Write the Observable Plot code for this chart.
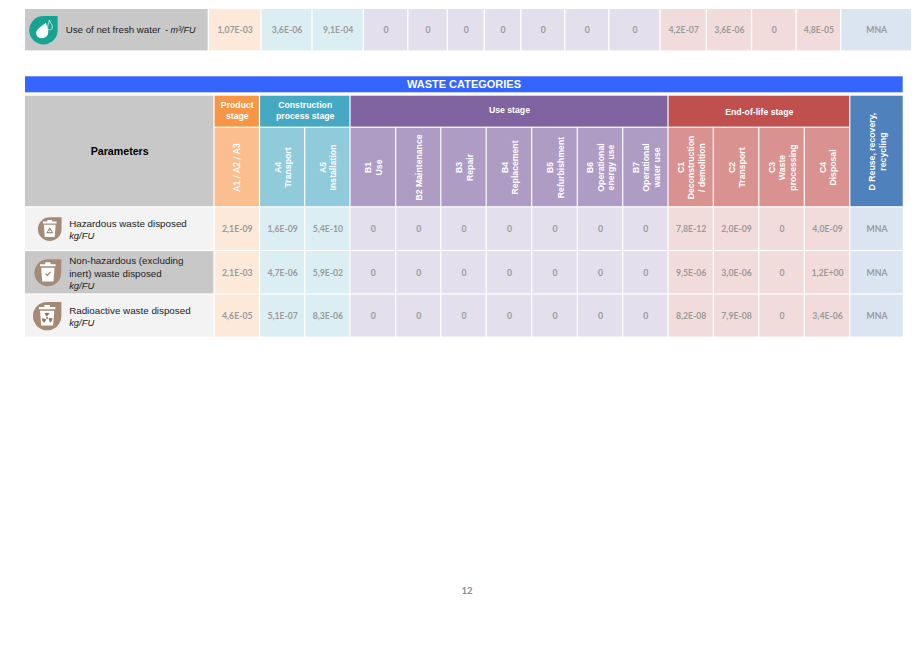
<!DOCTYPE html>
<html>
<head>
<meta charset="utf-8">
<script src="https://cdn.jsdelivr.net/npm/d3@7"></script>
<script src="https://cdn.jsdelivr.net/npm/@observablehq/plot@0.6"></script>
<style>
html,body{margin:0;padding:0;background:#fff;}
#page{position:relative;width:919px;height:650px;overflow:hidden;}
#pageNumber{position:absolute;left:0;top:585px;width:934px;text-align:center;font:bold 9.5px Lato,sans-serif;color:#8c8c8c;}
</style>
</head>
<body>
<div id="page"></div>
<script>
// ---------- data ----------
const columnGroups = ["A","A4","A4","B","B","B","B","B","B","B","C","C","C","C","D"];
const subHeaders = ["A1 / A2 / A3","A4\nTransport","A5\nInstallation","B1\nUse","B2 Maintenance","B3\nRepair","B4\nReplacement","B5\nRefurbishment","B6\nOperational\nenergy use","B7\nOperational\nwater use","C1\nDeconstruction\n/ demolition","C2\nTransport","C3\nWaste\nprocessing","C4\nDisposal"];
const stageNames = ["Product\nstage","Construction\nprocess stage","Use stage","End-of-life stage"];
const stageGroups = ["A","A4","B","C"];
const dHeader = "D Reuse, recovery,\nrecycling";
const sectionTitle = "WASTE CATEGORIES";
const parametersTitle = "Parameters";
const pageNumber = "12";

const waterLabel = "Use of net fresh water";
const waterDash = "-";
const waterUnit = "m³/FU";
const waterValues = ["1,07E-03","3,6E-06","9,1E-04","0","0","0","0","0","0","0","4,2E-07","3,6E-06","0","4,8E-05","MNA"];

const wasteLabels = ["Hazardous waste disposed","Non-hazardous (excluding\ninert) waste disposed","Radioactive waste disposed"];
const wasteUnit = "kg/FU";
const hazardousValues = ["2,1E-09","1,6E-09","5,4E-10","0","0","0","0","0","0","0","7,8E-12","2,0E-09","0","4,0E-09","MNA"];
const nonHazardousValues = ["2,1E-03","4,7E-06","5,9E-02","0","0","0","0","0","0","0","9,5E-06","3,0E-06","0","1,2E+00","MNA"];
const radioactiveValues = ["4,6E-05","5,1E-07","8,3E-06","0","0","0","0","0","0","0","8,2E-08","7,9E-08","0","3,4E-06","MNA"];
const wasteValues = [hazardousValues, nonHazardousValues, radioactiveValues];

// ---------- layout and styles (scales, not data) ----------
const topColumnEdges = [24.35,208.3,261,312,363.3,407.8,447.3,484.2,520.8,564.8,608.8,660,706.3,751.5,796.1,840.7,911.6];
const wasteColumnEdges = [24.35,214,259.5,304.7,350,395.7,440.8,486.2,531.7,577.3,622.7,668,713.3,758.8,804.3,849.8,903.35];
const wasteRowEdges = [76.3,92.3,95.1,127.2,206.8,250.5,294,337.2];
const TOP_H = 60, WASTE_H = 290;
const palette = {
  A:{stage:"#f79646",sub:"#fbbf8f",cell:"#fde9d9"},
  A4:{stage:"#45a9c3",sub:"#8fcbdb",cell:"#daeef3"},
  B:{stage:"#8064a2",sub:"#ae9cc4",cell:"#e4dfec"},
  C:{stage:"#c0504d",sub:"#d99290",cell:"#f2dcdb"},
  D:{stage:"#4f81bd",sub:"#4f81bd",cell:"#dbe5f1"}
};
const ARIAL = "'Liberation Sans',Arial,sans-serif";
const LATO = "Lato,sans-serif";
const VALUE = {fontFamily:LATO,fontWeight:700,fontSize:8.7,fill:"#9a9a9a"};
const idx = a => a.map((_,i)=>i);

// ---------- icon symbols, drawn in a unit circle and scaled by the dot radius ----------
const sym = fn => ({draw(c,size){ fn(c,Math.sqrt(size/Math.PI)); }});
const polygon = (c,r,pts)=>{ pts.forEach(([x,y],i)=> i?c.lineTo(x*r,y*r):c.moveTo(x*r,y*r)); c.closePath(); };
const tear = sym((c,r)=>{ c.moveTo(0,-r); c.lineTo(r,-r); c.lineTo(r,0); c.arc(0,0,r,0,Math.PI*1.5); c.closePath(); });
const bin = sym((c,r)=>{
  polygon(c,r,[[-.2,-.78],[.2,-.78],[.2,-.64],[-.2,-.64]]);
  polygon(c,r,[[-.58,-.64],[.58,-.64],[.58,-.48],[-.58,-.48]]);
  polygon(c,r,[[-.5,-.38],[.5,-.38],[.42,.66],[-.42,.66]]);
});
const triangleOutline = sym((c,r)=>{
  polygon(c,r,[[0,-.16],[.3,.34],[-.3,.34]]);
  polygon(c,r,[[0,-.01],[-.17,.26],[.17,.26]]);
  polygon(c,r,[[-.03,.05],[.03,.05],[.02,.18],[-.02,.18]]);
});
const check = sym((c,r)=>{ polygon(c,r,[[-.2,.1],[-.13,.04],[-.04,.14],[.17,-.1],[.23,-.04],[-.04,.26]]); });
const trefoil = sym((c,r)=>{
  [-90,30,150].forEach(a=>{
    const t=a*Math.PI/180, s=.5;
    const a0=t-s, a1=t+s;
    c.moveTo(Math.cos(a0)*.1*r,Math.sin(a0)*.1*r+.14*r);
    c.arc(0,.14*r,.38*r,a0,a1);
    c.closePath();
  });
  c.moveTo(.07*r,.14*r); c.arc(0,.14*r,.07*r,0,Math.PI*2);
});
const dropBig = sym((c,r)=>{
  c.moveTo(.18*r,-.52*r);
  c.bezierCurveTo(.25*r,-.2*r,.42*r,.05*r,.3*r,.32*r);
  c.bezierCurveTo(.15*r,.62*r,-.38*r,.68*r,-.5*r,.3*r);
  c.bezierCurveTo(-.6*r,-.02*r,-.1*r,-.3*r,.18*r,-.52*r);
  c.closePath();
});
const dropSmall = sym((c,r)=>{
  c.moveTo(.42*r,-.72*r);
  c.bezierCurveTo(.48*r,-.5*r,.68*r,-.35*r,.62*r,-.15*r);
  c.bezierCurveTo(.56*r,.02*r,.36*r,.02*r,.3*r,-.1*r);
  c.bezierCurveTo(.27*r,-.3*r,.38*r,-.5*r,.42*r,-.72*r);
  c.closePath();
});

// ---------- top table ----------
const topPlot = Plot.plot({
  width:919, height:TOP_H, margin:0,
  style:{background:"transparent"},
  x:{type:"linear",domain:idx(topColumnEdges),range:topColumnEdges,axis:null},
  y:{type:"linear",domain:[0,1],range:[9,50.4],axis:null},
  color:{type:"identity"},
  marks:[
    Plot.rect([0],{x1:0,x2:1,y1:0,y2:1,fill:"#c8c8c8",insetLeft:.65,insetRight:.65}),
    Plot.rect(waterValues,{x1:(d,i)=>i+1,x2:(d,i)=>i+2,y1:0,y2:1,fill:(d,i)=>palette[columnGroups[i]].cell,insetLeft:.65,insetRight:.65}),
    Plot.text(waterValues,{x:(d,i)=>i+1.5,y:.5,dy:.2,text:d=>d,...VALUE}),
    Plot.dot([0],{x:0,y:.5,dx:18.6,symbol:tear,r:14.2,fill:"#17a393",stroke:null}),
    Plot.dot([0],{x:0,y:.5,dx:18.6,symbol:dropBig,r:14.2,fill:"#fff",stroke:null}),
    Plot.dot([0],{x:0,y:.5,dx:18.6,symbol:dropSmall,r:14.2,fill:"#17a393",stroke:"#fff",strokeWidth:.7}),
    Plot.text([waterLabel],{x:0,y:.5,dx:40.9,text:d=>d,textAnchor:"start",fontFamily:ARIAL,fontSize:9.7,fill:"#222"}),
    Plot.text([waterDash],{x:0,y:.5,dx:140.2,text:d=>d,textAnchor:"start",fontFamily:ARIAL,fontSize:9.7,fill:"#222"}),
    Plot.text([waterUnit],{x:0,y:.5,dx:145.6,text:d=>d,textAnchor:"start",fontFamily:ARIAL,fontSize:9,fontStyle:"italic",fill:"#222"})
  ]
});
document.getElementById("page").append(topPlot);

// ---------- waste table ----------
const stages = stageNames.map((name,i)=>({name,group:stageGroups[i],
  from:columnGroups.indexOf(stageGroups[i])+1,
  to:columnGroups.lastIndexOf(stageGroups[i])+2}));
const stageNudge = [-1.6,-1.6,-1.7,-.2];
const rowCells = wasteValues.flatMap((vals,r)=>vals.map((v,c)=>({v,r,c})));
const rowFill = ["#f3f3f3","#c8c8c8","#f3f3f3"];
const icons = [
  {r:11.8,dx:24.9,glyph:triangleOutline},
  {r:13.4,dx:23,glyph:check},
  {r:14.2,dx:22.3,glyph:trefoil}
];
const HEAD = {fontFamily:ARIAL,fontWeight:700,fontSize:8.7,fill:"#fff",lineHeight:1.2};
const wastePlot = Plot.plot({
  width:919, height:WASTE_H, margin:0,
  style:{background:"transparent"},
  x:{type:"linear",domain:idx(wasteColumnEdges),range:wasteColumnEdges,axis:null},
  y:{type:"linear",domain:idx(wasteRowEdges),range:wasteRowEdges.map(v=>v-TOP_H),axis:null},
  color:{type:"identity"},
  marks:[
    // section band
    Plot.rect([0],{x1:0,x2:16,y1:0,y2:1,fill:"#3465ff",insetLeft:.65,insetRight:.65}),
    Plot.text([sectionTitle],{x:6.5,y:.5,text:d=>d,fontFamily:ARIAL,fontWeight:700,fontSize:11,fill:"#fff"}),
    // parameters header
    Plot.rect([0],{x1:0,x2:1,y1:2,y2:4,fill:"#c8c8c8",inset:.6}),
    Plot.text([parametersTitle],{x:.5,y:3.3,text:d=>d,fontFamily:ARIAL,fontWeight:700,fontSize:10.65,fill:"#000"}),
    // stage headers
    Plot.rect(stages,{x1:"from",x2:"to",y1:2,y2:3,fill:d=>palette[d.group].stage,inset:.6}),
    ...stages.map((s,i)=>Plot.text([s],{x:d=>(d.from+d.to)/2,y:2.5,dy:stageNudge[i],text:"name",...HEAD})),
    // D header
    Plot.rect([0],{x1:15,x2:16,y1:2,y2:4,fill:palette.D.stage,inset:.6}),
    Plot.text([dHeader],{x:15.5,y:3.3,text:d=>d,rotate:-90,...HEAD}),
    // sub headers
    Plot.rect(subHeaders,{x1:(d,i)=>i+1,x2:(d,i)=>i+2,y1:3,y2:4,fill:(d,i)=>palette[columnGroups[i]].sub,inset:.6}),
    Plot.text(subHeaders.slice(0,1),{x:1.5,y:3.5,text:d=>d,rotate:-90,fontFamily:LATO,fontWeight:700,fontSize:8.6,fill:"#fff"}),
    Plot.text(subHeaders.slice(1),{x:(d,i)=>i+2.5,y:3.5,text:d=>d,rotate:-90,...HEAD}),
    // row labels
    Plot.rect(wasteLabels,{x1:0,x2:1,y1:(d,i)=>i+4,y2:(d,i)=>i+5,fill:(d,i)=>rowFill[i],inset:.6}),
    Plot.text(wasteLabels,{x:0,y:(d,i)=>i+4.5,dx:44.3,text:d=>d+"\n ",textAnchor:"start",fontFamily:ARIAL,fontSize:9.8,fill:"#222",lineHeight:1.28}),
    Plot.text(wasteLabels,{x:0,y:(d,i)=>i+4.5,dx:44.3,text:d=>d.replace(/[^\n]+/g," ")+"\n"+wasteUnit,textAnchor:"start",fontFamily:ARIAL,fontSize:9.4,fontStyle:"italic",fill:"#222",lineHeight:1.33}),
    // icons
    ...icons.flatMap((ic,i)=>[
      Plot.dot([0],{x:0,y:i+4.5,dx:ic.dx,symbol:tear,r:ic.r,fill:"#a58a76",stroke:null}),
      Plot.dot([0],{x:0,y:i+4.5,dx:ic.dx,symbol:bin,r:ic.r,fill:"#fff",stroke:null}),
      Plot.dot([0],{x:0,y:i+4.5,dx:ic.dx,symbol:ic.glyph,r:ic.r,fill:"#8d7462",stroke:null})
    ]),
    // values
    Plot.rect(rowCells,{x1:d=>d.c+1,x2:d=>d.c+2,y1:d=>d.r+4,y2:d=>d.r+5,fill:d=>palette[columnGroups[d.c]].cell,inset:.6}),
    Plot.text(rowCells,{x:d=>d.c+1.5,y:d=>d.r+4.5,text:"v",...VALUE})
  ]
});
document.getElementById("page").append(wastePlot);

const pn = document.createElement("div");
pn.id = "pageNumber";
pn.textContent = pageNumber;
document.getElementById("page").append(pn);
</script>
</body>
</html>
